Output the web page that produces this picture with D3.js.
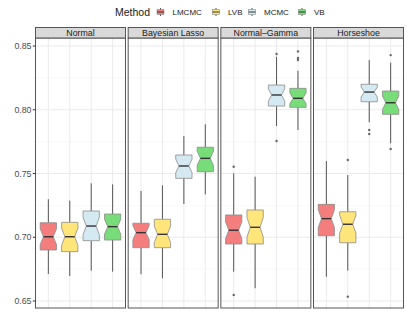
<!DOCTYPE html>
<html>

<head>
  <meta http-equiv="content-type" content="text/html; charset=utf-8">
  <title>Method boxplots</title>
  <style>
    body { margin: 0; background: #fff; }
    svg { display: block; font-family: "Liberation Sans", Arial, sans-serif; }
  </style>
</head>

<body>
  <svg id="canvas"></svg>

  <script src="https://d3js.org/d3.v7.min.js"></script>
  <script>

    const methods = ["LMCMC", "LVB", "MCMC", "VB"];
    const models = ["Normal", "Bayesian Lasso", "Normal\u2013Gamma", "Horseshoe"];
    const colors = ["#f47e7e", "#ffe57a", "#d4e9f1", "#78dc78"];
    const yTicks = [0.65, 0.70, 0.75, 0.80, 0.85];

    // [lower whisker, q1, median, q3, upper whisker] per method, one array per model
    const statsNormal = [
      [0.6712, 0.6900, 0.7004, 0.7114, 0.7298],
      [0.6696, 0.6887, 0.7004, 0.7117, 0.7287],
      [0.6738, 0.6973, 0.7088, 0.7206, 0.7423],
      [0.6730, 0.6978, 0.7083, 0.7182, 0.7415]
    ];
    const statsLasso = [
      [0.6710, 0.6918, 0.7036, 0.7110, 0.7363],
      [0.6678, 0.6918, 0.7023, 0.7141, 0.7407],
      [0.7261, 0.7462, 0.7559, 0.7645, 0.7794],
      [0.7336, 0.7514, 0.7619, 0.7706, 0.7886]
    ];
    const statsNG = [
      [0.6730, 0.6947, 0.7055, 0.7175, 0.7502],
      [0.6600, 0.6947, 0.7078, 0.7214, 0.7475],
      [0.7873, 0.8029, 0.8116, 0.8194, 0.8416],
      [0.7841, 0.8019, 0.8090, 0.8168, 0.8306]
    ];
    const statsHS = [
      [0.6690, 0.7012, 0.7146, 0.7258, 0.7598],
      [0.6738, 0.6957, 0.7102, 0.7200, 0.7488],
      [0.7902, 0.8063, 0.8139, 0.8200, 0.8390],
      [0.7737, 0.7964, 0.8055, 0.8147, 0.8369]
    ];
    const outNormal = [[], [], [], []];
    const outLasso = [[], [], [], []];
    const outNG = [[0.7553, 0.6547], [], [0.8437, 0.7755], [0.8458, 0.8406, 0.8390]];
    const outHS = [[], [0.7606, 0.6534], [0.7841, 0.7810], [0.8429, 0.7692]];
    const nObs = 30;

    const allStats = [statsNormal, statsLasso, statsNG, statsHS];
    const allOut = [outNormal, outLasso, outNG, outHS];

    const W = 407, H = 326;
    const plot = { left: 35.5, right: 403.5, stripTop: 27.5, top: 38, bottom: 308 };

    const svg = d3.select("#canvas").attr("width", W).attr("height", H);

    const y = d3.scaleLinear().domain([0.6445, 0.8563]).range([plot.bottom, plot.top]);
    const panel = d3.scaleBand().domain(models).range([plot.left, plot.right]).paddingInner(0.029);
    const pw = panel.bandwidth();
    const x = d3.scalePoint().domain(methods).range([0, pw]).padding(0.6);
    const bw = x.step() * 0.76;

    const minor = d3.range(0.625, 0.876, 0.05).filter(v => v > y.domain()[0] && v < y.domain()[1]);

    models.forEach((m, mi) => {
      const g = svg.append("g").attr("transform", "translate(" + panel(m) + ",0)");

      g.append("rect").attr("x", 0).attr("y", plot.top).attr("width", pw).attr("height", plot.bottom - plot.top)
        .attr("fill", "#fff");

      g.selectAll(".minor").data(minor).enter().append("line")
        .attr("x1", 0).attr("x2", pw).attr("y1", d => y(d)).attr("y2", d => y(d))
        .attr("stroke", "#f2f2f2").attr("stroke-width", 0.5);
      g.selectAll(".major").data(yTicks).enter().append("line")
        .attr("x1", 0).attr("x2", pw).attr("y1", d => y(d)).attr("y2", d => y(d))
        .attr("stroke", "#ebebeb").attr("stroke-width", 1);
      g.selectAll(".vmajor").data(methods).enter().append("line")
        .attr("x1", d => x(d)).attr("x2", d => x(d)).attr("y1", plot.top).attr("y2", plot.bottom)
        .attr("stroke", "#ebebeb").attr("stroke-width", 1);

      methods.forEach((meth, k) => {
        const s = allStats[mi][k];
        const cx = x(meth);
        const iqr = s[3] - s[1];
        const nl = s[2] - 1.58 * iqr / Math.sqrt(nObs);
        const nu = s[2] + 1.58 * iqr / Math.sqrt(nObs);
        const xl = cx - bw / 2, xr = cx + bw / 2;
        const xnl = cx - bw * 0.3, xnr = cx + bw * 0.3;

        g.append("line").attr("x1", cx).attr("x2", cx).attr("y1", y(s[4])).attr("y2", y(s[3]))
          .attr("stroke", "#555").attr("stroke-width", 1);
        g.append("line").attr("x1", cx).attr("x2", cx).attr("y1", y(s[1])).attr("y2", y(s[0]))
          .attr("stroke", "#555").attr("stroke-width", 1);

        const pts = [
          [xl, y(s[3])], [xr, y(s[3])], [xr, y(nu)], [xnr, y(s[2])], [xr, y(nl)],
          [xr, y(s[1])], [xl, y(s[1])], [xl, y(nl)], [xnl, y(s[2])], [xl, y(nu)]
        ];
        g.append("path").attr("d", d3.line()(pts) + "Z")
          .attr("fill", colors[k]).attr("stroke", "#8c8c8c").attr("stroke-width", 0.8);
        g.append("line").attr("x1", xnl).attr("x2", xnr).attr("y1", y(s[2])).attr("y2", y(s[2]))
          .attr("stroke", "#333").attr("stroke-width", 1.4);

        g.selectAll(".out" + k).data(allOut[mi][k]).enter().append("circle")
          .attr("cx", cx).attr("cy", d => y(d)).attr("r", 1.2).attr("fill", "#666");
      });

      g.append("rect").attr("x", 0).attr("y", plot.top).attr("width", pw).attr("height", plot.bottom - plot.top)
        .attr("fill", "none").attr("stroke", "#555").attr("stroke-width", 1);

      g.append("rect").attr("x", 0).attr("y", plot.stripTop).attr("width", pw).attr("height", plot.top - plot.stripTop)
        .attr("fill", "#d9d9d9").attr("stroke", "#555").attr("stroke-width", 1);
      g.append("text").attr("x", pw / 2).attr("y", (plot.stripTop + plot.top) / 2 + 3.2)
        .attr("text-anchor", "middle").attr("font-size", 8.8).attr("fill", "#1a1a1a").text(m);
    });

    // y axis
    const ya = svg.append("g");
    yTicks.forEach(t => {
      ya.append("line").attr("x1", plot.left - 2.7).attr("x2", plot.left).attr("y1", y(t)).attr("y2", y(t))
        .attr("stroke", "#333").attr("stroke-width", 1);
      ya.append("text").attr("x", plot.left - 4).attr("y", y(t) + 3).attr("text-anchor", "end")
        .attr("font-size", 8.8).attr("fill", "#4d4d4d").text(t.toFixed(2));
    });

    // legend
    const lg = svg.append("g").attr("transform", "translate(0,12)");
    lg.append("text").attr("x", 115).attr("y", 3.8).attr("font-size", 10.5).attr("fill", "#1a1a1a").text("Method");
    const keyX = [160.5, 216, 252, 302];
    methods.forEach((meth, k) => {
      const kx = keyX[k];
      lg.append("line").attr("x1", kx).attr("x2", kx).attr("y1", -4).attr("y2", 4).attr("stroke", "#555");
      lg.append("rect").attr("x", kx - 3.5).attr("y", -2.5).attr("width", 7).attr("height", 5)
        .attr("fill", colors[k]).attr("stroke", "#8c8c8c").attr("stroke-width", 0.6);
      lg.append("line").attr("x1", kx - 3.5).attr("x2", kx + 3.5).attr("y1", 0).attr("y2", 0).attr("stroke", "#333");
      lg.append("text").attr("x", kx + 12).attr("y", 3).attr("font-size", 8).attr("fill", "#1a1a1a").text(meth);
    });

  </script>
</body>

</html>
